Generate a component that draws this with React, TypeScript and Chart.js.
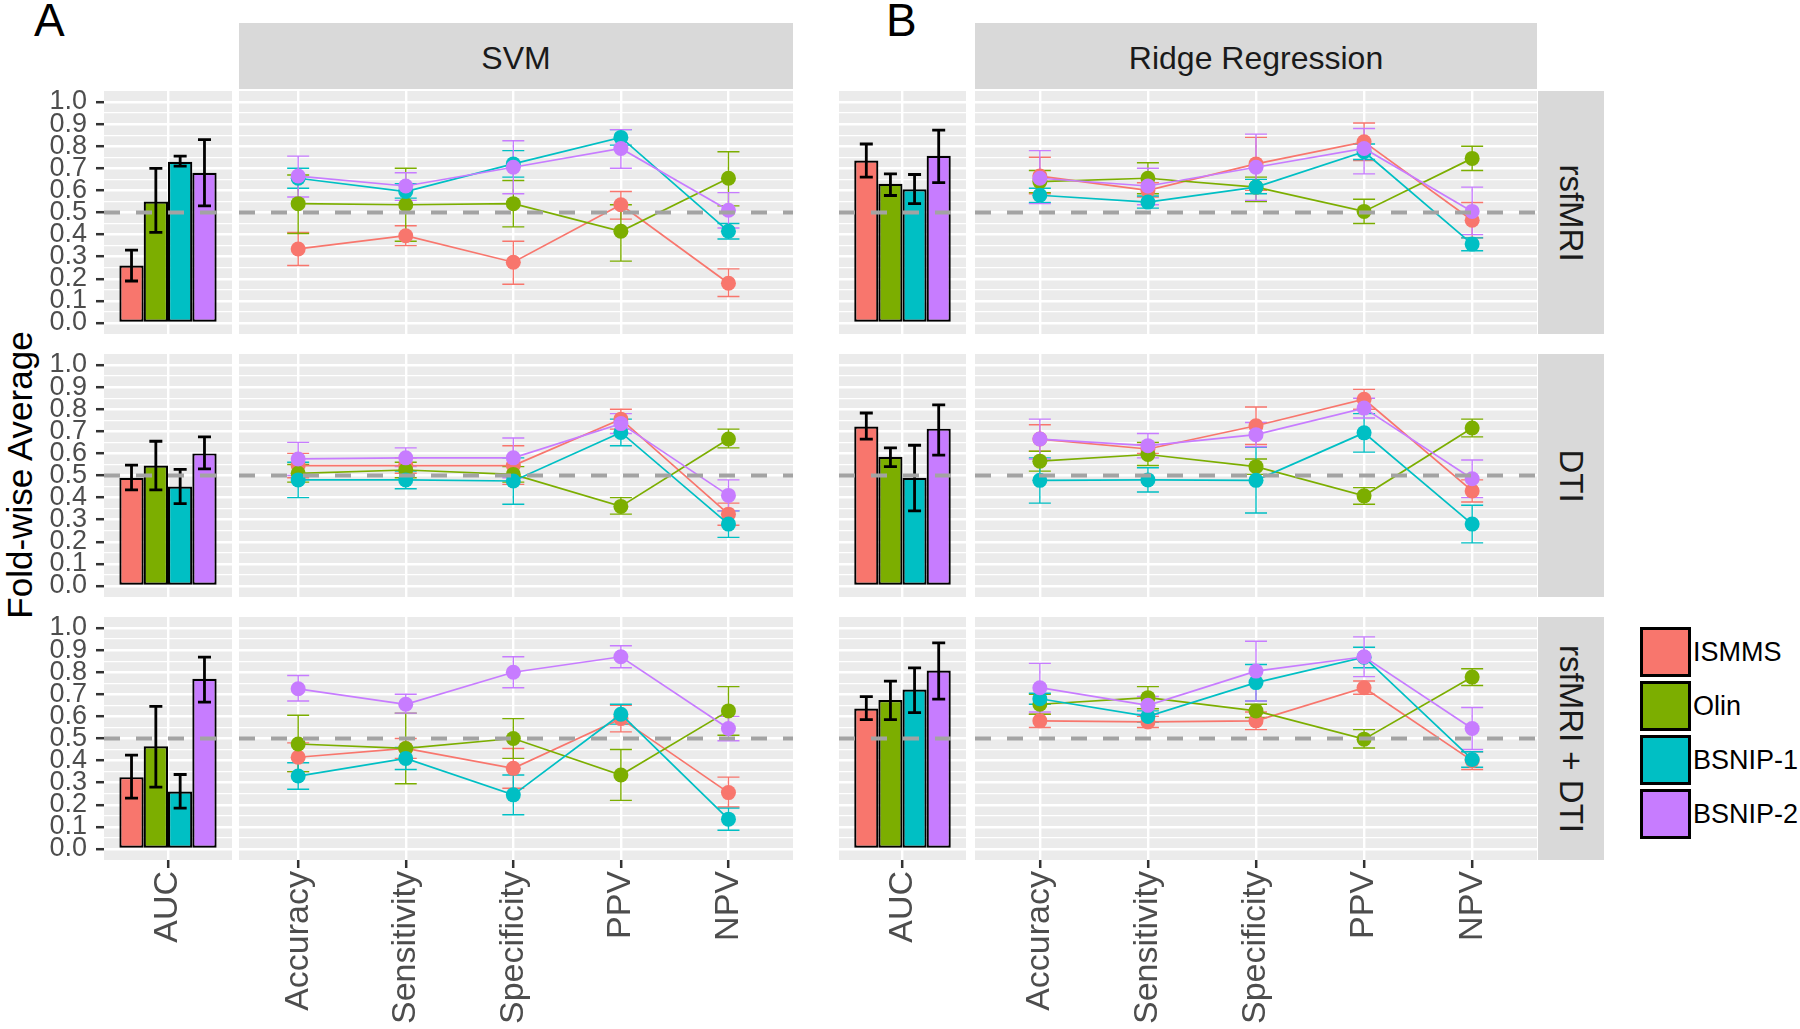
import React, { useEffect, useRef } from "react";
import { Chart, registerables } from "chart.js";

Chart.register(...registerables);

// ---------------- data ----------------
const SITES = ["ISMMS", "Olin", "BSNIP-1", "BSNIP-2"];
const SITE_COLORS = ["#F8766D", "#7CAE00", "#00BFC4", "#C77CFF"];
const AUC_LABELS = ["AUC"];
const METRICS = ["Accuracy", "Sensitivity", "Specificity", "PPV", "NPV"];
const METHODS = ["SVM", "Ridge Regression"];
const MODALITIES = ["rsfMRI", "DTI", "rsfMRI + DTI"];
const Y_TICKS = [0, 0.1, 0.2, 0.3, 0.4, 0.5, 0.6, 0.7, 0.8, 0.9, 1.0];
const CHANCE_LEVEL = 0.5;

// rows: ISMMS, Olin, BSNIP-1, BSNIP-2 ; columns: AUC, Accuracy, Sensitivity, Specificity, PPV, NPV
const SVM_RSFMRI_MEAN = [
  [0.26, 0.335, 0.395, 0.275, 0.535, 0.18],
  [0.55, 0.54, 0.535, 0.54, 0.415, 0.655],
  [0.73, 0.655, 0.595, 0.72, 0.84, 0.415],
  [0.68, 0.665, 0.62, 0.705, 0.79, 0.51],
];
const SVM_RSFMRI_LOW = [
  [0.19, 0.26, 0.35, 0.175, 0.47, 0.12],
  [0.41, 0.405, 0.37, 0.435, 0.28, 0.53],
  [0.71, 0.61, 0.565, 0.66, 0.805, 0.38],
  [0.53, 0.57, 0.555, 0.585, 0.7, 0.43],
];
const SVM_RSFMRI_HIGH = [
  [0.33, 0.41, 0.44, 0.37, 0.595, 0.245],
  [0.7, 0.67, 0.7, 0.645, 0.535, 0.775],
  [0.755, 0.7, 0.63, 0.78, 0.875, 0.45],
  [0.83, 0.755, 0.68, 0.825, 0.875, 0.59],
];

const SVM_DTI_MEAN = [
  [0.49, 0.545, 0.545, 0.545, 0.755, 0.325],
  [0.545, 0.51, 0.525, 0.505, 0.36, 0.665],
  [0.45, 0.48, 0.48, 0.475, 0.695, 0.28],
  [0.6, 0.575, 0.58, 0.58, 0.735, 0.41],
];
const SVM_DTI_LOW = [
  [0.435, 0.49, 0.51, 0.46, 0.71, 0.275],
  [0.435, 0.47, 0.49, 0.47, 0.325, 0.625],
  [0.373, 0.4, 0.44, 0.37, 0.635, 0.22],
  [0.53, 0.5, 0.54, 0.49, 0.69, 0.34],
];
const SVM_DTI_HIGH = [
  [0.547, 0.6, 0.58, 0.635, 0.8, 0.375],
  [0.655, 0.55, 0.56, 0.54, 0.4, 0.71],
  [0.528, 0.56, 0.52, 0.58, 0.755, 0.34],
  [0.675, 0.65, 0.625, 0.67, 0.78, 0.48],
];

const SVM_COMBINED_MEAN = [
  [0.325, 0.415, 0.455, 0.365, 0.59, 0.255],
  [0.465, 0.475, 0.455, 0.5, 0.335, 0.625],
  [0.26, 0.33, 0.41, 0.245, 0.61, 0.135],
  [0.77, 0.725, 0.655, 0.8, 0.87, 0.545],
];
const SVM_COMBINED_LOW = [
  [0.23, 0.35, 0.41, 0.275, 0.53, 0.19],
  [0.28, 0.35, 0.295, 0.41, 0.22, 0.515],
  [0.185, 0.27, 0.36, 0.155, 0.565, 0.085],
  [0.665, 0.67, 0.615, 0.73, 0.82, 0.49],
];
const SVM_COMBINED_HIGH = [
  [0.425, 0.48, 0.5, 0.455, 0.65, 0.325],
  [0.645, 0.605, 0.615, 0.59, 0.45, 0.735],
  [0.337, 0.39, 0.46, 0.335, 0.655, 0.185],
  [0.868, 0.785, 0.7, 0.87, 0.92, 0.6],
];

const RIDGE_RSFMRI_MEAN = [
  [0.735, 0.665, 0.6, 0.72, 0.82, 0.465],
  [0.63, 0.64, 0.655, 0.615, 0.505, 0.745],
  [0.605, 0.578, 0.547, 0.615, 0.775, 0.357],
  [0.757, 0.655, 0.62, 0.705, 0.79, 0.505],
];
const RIDGE_RSFMRI_LOW = [
  [0.66, 0.585, 0.57, 0.6, 0.735, 0.385],
  [0.577, 0.59, 0.585, 0.55, 0.45, 0.69],
  [0.54, 0.545, 0.52, 0.585, 0.74, 0.327],
  [0.635, 0.54, 0.535, 0.555, 0.675, 0.4],
];
const RIDGE_RSFMRI_HIGH = [
  [0.81, 0.75, 0.635, 0.84, 0.905, 0.545],
  [0.675, 0.69, 0.725, 0.66, 0.56, 0.8],
  [0.672, 0.61, 0.575, 0.65, 0.81, 0.385],
  [0.873, 0.78, 0.7, 0.855, 0.88, 0.615],
];

const RIDGE_DTI_MEAN = [
  [0.722, 0.665, 0.62, 0.725, 0.845, 0.43],
  [0.585, 0.565, 0.595, 0.54, 0.408, 0.715],
  [0.49, 0.478, 0.48, 0.478, 0.693, 0.28],
  [0.712, 0.665, 0.635, 0.685, 0.805, 0.485],
];
const RIDGE_DTI_LOW = [
  [0.665, 0.61, 0.6, 0.64, 0.8, 0.38],
  [0.54, 0.52, 0.545, 0.505, 0.37, 0.675],
  [0.34, 0.375, 0.425, 0.33, 0.606, 0.195],
  [0.592, 0.575, 0.58, 0.63, 0.76, 0.4],
];
const RIDGE_DTI_HIGH = [
  [0.783, 0.73, 0.64, 0.81, 0.89, 0.48],
  [0.625, 0.61, 0.65, 0.575, 0.445, 0.755],
  [0.637, 0.58, 0.535, 0.628, 0.78, 0.365],
  [0.82, 0.755, 0.69, 0.74, 0.85, 0.57],
];

const RIDGE_COMBINED_MEAN = [
  [0.636, 0.58, 0.575, 0.58, 0.73, 0.4],
  [0.674, 0.655, 0.685, 0.625, 0.497, 0.778],
  [0.722, 0.68, 0.6, 0.753, 0.868, 0.405],
  [0.808, 0.73, 0.65, 0.805, 0.87, 0.545],
];
const RIDGE_COMBINED_LOW = [
  [0.585, 0.55, 0.55, 0.54, 0.7, 0.36],
  [0.585, 0.61, 0.635, 0.595, 0.457, 0.74],
  [0.617, 0.655, 0.575, 0.67, 0.82, 0.37],
  [0.678, 0.62, 0.61, 0.67, 0.78, 0.45],
];
const RIDGE_COMBINED_HIGH = [
  [0.69, 0.61, 0.6, 0.62, 0.76, 0.44],
  [0.76, 0.7, 0.735, 0.655, 0.54, 0.816],
  [0.82, 0.705, 0.625, 0.835, 0.913, 0.44],
  [0.933, 0.84, 0.69, 0.94, 0.96, 0.64],
];

const PANEL_DATA = [
  // [method][modality]
  [
    { mean: SVM_RSFMRI_MEAN, low: SVM_RSFMRI_LOW, high: SVM_RSFMRI_HIGH },
    { mean: SVM_DTI_MEAN, low: SVM_DTI_LOW, high: SVM_DTI_HIGH },
    { mean: SVM_COMBINED_MEAN, low: SVM_COMBINED_LOW, high: SVM_COMBINED_HIGH },
  ],
  [
    { mean: RIDGE_RSFMRI_MEAN, low: RIDGE_RSFMRI_LOW, high: RIDGE_RSFMRI_HIGH },
    { mean: RIDGE_DTI_MEAN, low: RIDGE_DTI_LOW, high: RIDGE_DTI_HIGH },
    { mean: RIDGE_COMBINED_MEAN, low: RIDGE_COMBINED_LOW, high: RIDGE_COMBINED_HIGH },
  ],
];

// ---------------- layout ----------------
const FONT = '"Liberation Sans", Arial, Helvetica, sans-serif';
const ROW_TOP = [91, 354, 617];
const ROW_H = 243;
const Y_MIN = -0.05;
const Y_MAX = 1.05;
const AUC_COL = [
  { left: 104, width: 128 },
  { left: 839, width: 127 },
];
const MET_COL = [
  { left: 239, width: 554, xMin: -0.55, xMax: 4.6 },
  { left: 975, width: 562, xMin: -0.6, xMax: 4.6 },
];
const Y_AXIS_W = 104;
const X_AXIS_H = 164;
const PAD = 34;
const SIDE = 8;

const GRID_VALUES: number[] = (() => {
  const out: number[] = [];
  for (let i = 0; i < Y_TICKS.length; i++) {
    out.push(Y_TICKS[i]);
    if (i < Y_TICKS.length - 1) out.push((Y_TICKS[i] + Y_TICKS[i + 1]) / 2);
  }
  return out;
})();

const isMajor = (v: number) => Y_TICKS.some((t) => Math.abs(t - v) < 1e-6);

// ---------------- plugins ----------------
const panelBackground = {
  id: "panelBackground",
  beforeDraw(chart: any) {
    const { ctx, chartArea: a } = chart;
    ctx.save();
    ctx.fillStyle = "#EBEBEB";
    ctx.fillRect(a.left, a.top, a.right - a.left, a.bottom - a.top);
    ctx.restore();
  },
};

function drawErrorBars(chart: any, opts: any) {
  const { ctx } = chart;
  const ys = chart.scales.y;
  chart.data.datasets.forEach((ds: any, i: number) => {
    const meta = chart.getDatasetMeta(i);
    meta.data.forEach((el: any, j: number) => {
      const lo = ds.errLow[j];
      const hi = ds.errHigh[j];
      const x = el.x;
      const y1 = ys.getPixelForValue(lo);
      const y2 = ys.getPixelForValue(hi);
      ctx.save();
      ctx.strokeStyle = opts.color || ds.borderColor;
      ctx.lineWidth = opts.lineWidth;
      ctx.lineCap = "butt";
      ctx.beginPath();
      ctx.moveTo(x, y1);
      ctx.lineTo(x, y2);
      ctx.moveTo(x - opts.cap, y1);
      ctx.lineTo(x + opts.cap, y1);
      ctx.moveTo(x - opts.cap, y2);
      ctx.lineTo(x + opts.cap, y2);
      ctx.stroke();
      ctx.restore();
    });
  });
}

const errorBars = {
  id: "errorBars",
  beforeDatasetsDraw(chart: any, _a: any, opts: any) {
    if (opts.layer === "under") drawErrorBars(chart, opts);
  },
  afterDatasetsDraw(chart: any, _a: any, opts: any) {
    if (opts.layer === "over") drawErrorBars(chart, opts);
  },
};

const chanceLine = {
  id: "chanceLine",
  afterDatasetsDraw(chart: any, _a: any, opts: any) {
    const { ctx, chartArea: a } = chart;
    const y = chart.scales.y.getPixelForValue(opts.value);
    ctx.save();
    ctx.beginPath();
    ctx.rect(a.left, a.top, a.right - a.left, a.bottom - a.top);
    ctx.clip();
    ctx.strokeStyle = "#A3A3A3";
    ctx.lineWidth = 4;
    ctx.setLineDash([16, 16]);
    ctx.beginPath();
    ctx.moveTo(a.left, y);
    ctx.lineTo(a.right, y);
    ctx.stroke();
    ctx.restore();
  },
};

// ---------------- scales ----------------
function yScale(showY: boolean) {
  return {
    type: "linear",
    min: Y_MIN,
    max: Y_MAX,
    bounds: "data",
    afterBuildTicks: (s: any) => {
      s.ticks = GRID_VALUES.map((v) => ({ value: v }));
      s.min = Y_MIN;
      s.max = Y_MAX;
    },
    afterFit: (s: any) => {
      s.width = showY ? Y_AXIS_W : 0;
    },
    border: { display: false },
    grid: {
      color: "#FFFFFF",
      lineWidth: (c: any) => (c.tick && isMajor(c.tick.value) ? 2.4 : 1.3),
      drawTicks: showY,
      tickLength: 8,
      tickWidth: 2.5,
      tickColor: (c: any) => (c.tick && isMajor(c.tick.value) ? "#333333" : "rgba(0,0,0,0)"),
    },
    ticks: {
      display: showY,
      autoSkip: false,
      padding: 9,
      color: "#4D4D4D",
      font: { family: FONT, size: 27 },
      callback: (v: any) => (isMajor(Number(v)) ? Number(v).toFixed(1) : ""),
    },
  };
}

function xTickStyle(showX: boolean) {
  return {
    display: showX,
    autoSkip: false,
    maxRotation: 90,
    minRotation: 90,
    padding: 3,
    color: "#4D4D4D",
    font: { family: FONT, size: 34 },
  };
}

function xGrid(showX: boolean) {
  return {
    offset: false,
    color: "#FFFFFF",
    lineWidth: 2.4,
    drawTicks: showX,
    tickLength: 8,
    tickWidth: 2.5,
    tickColor: "#333333",
  };
}

function boxFor(left: number, width: number, top: number, showY: boolean, showX: boolean) {
  const padLeft = showY ? 0 : SIDE;
  const x = showY ? left - Y_AXIS_W : left - SIDE;
  const w = (showY ? Y_AXIS_W : SIDE) + width + SIDE;
  const padBottom = showX ? 2 : PAD;
  const h = PAD + ROW_H + padBottom + (showX ? X_AXIS_H : 0);
  return { x, y: top - PAD, w, h, padding: { left: padLeft, right: SIDE, top: PAD, bottom: padBottom } };
}

function aucConfig(method: number, row: number) {
  const d = PANEL_DATA[method][row];
  const showY = method === 0;
  const showX = row === MODALITIES.length - 1;
  const box = boxFor(AUC_COL[method].left, AUC_COL[method].width, ROW_TOP[row], showY, showX);
  const config = {
    type: "bar",
    data: {
      labels: AUC_LABELS,
      datasets: SITES.map((s, i) => ({
        label: s,
        data: [d.mean[i][0]],
        errLow: [d.low[i][0]],
        errHigh: [d.high[i][0]],
        backgroundColor: SITE_COLORS[i],
        borderColor: "#000000",
        borderWidth: 2.2,
        borderSkipped: false,
        categoryPercentage: 0.76,
        barPercentage: 1,
      })),
    },
    options: {
      responsive: false,
      animation: false,
      devicePixelRatio: 1,
      events: [],
      layout: { padding: box.padding },
      plugins: {
        legend: { display: false },
        tooltip: { enabled: false },
        errorBars: { layer: "over", color: "#000000", lineWidth: 2.8, cap: 6.5 },
        chanceLine: { value: CHANCE_LEVEL },
      },
      scales: {
        x: {
          type: "category",
          offset: true,
          afterFit: (s: any) => {
            s.height = showX ? X_AXIS_H : 0;
          },
          border: { display: false },
          grid: xGrid(showX),
          ticks: xTickStyle(showX),
        },
        y: yScale(showY),
      },
    },
    plugins: [panelBackground, errorBars, chanceLine],
  };
  return { box, config };
}

function metricConfig(method: number, row: number) {
  const d = PANEL_DATA[method][row];
  const showX = row === MODALITIES.length - 1;
  const col = MET_COL[method];
  const box = boxFor(col.left, col.width, ROW_TOP[row], false, showX);
  const config = {
    type: "line",
    data: {
      datasets: SITES.map((s, i) => ({
        label: s,
        data: METRICS.map((_, j) => ({ x: j, y: d.mean[i][j + 1] })),
        errLow: METRICS.map((_, j) => d.low[i][j + 1]),
        errHigh: METRICS.map((_, j) => d.high[i][j + 1]),
        borderColor: SITE_COLORS[i],
        backgroundColor: SITE_COLORS[i],
        borderWidth: 1.7,
        pointRadius: 7.5,
        pointBackgroundColor: SITE_COLORS[i],
        pointBorderWidth: 0,
        tension: 0,
        order: SITES.length - i,
      })),
    },
    options: {
      responsive: false,
      animation: false,
      devicePixelRatio: 1,
      events: [],
      layout: { padding: box.padding },
      plugins: {
        legend: { display: false },
        tooltip: { enabled: false },
        errorBars: { layer: "under", lineWidth: 1.4, cap: 11 },
        chanceLine: { value: CHANCE_LEVEL },
      },
      scales: {
        x: {
          type: "linear",
          min: col.xMin,
          max: col.xMax,
          bounds: "data",
          afterBuildTicks: (s: any) => {
            s.ticks = METRICS.map((_, j) => ({ value: j }));
            s.min = col.xMin;
            s.max = col.xMax;
          },
          afterFit: (s: any) => {
            s.height = showX ? X_AXIS_H : 0;
          },
          border: { display: false },
          grid: xGrid(showX),
          ticks: {
            ...xTickStyle(showX),
            callback: (v: any) => METRICS[Math.round(Number(v))] ?? "",
          },
        },
        y: yScale(false),
      },
    },
    plugins: [panelBackground, errorBars, chanceLine],
  };
  return { box, config };
}

// ---------------- components ----------------
function ChartPanel({ make }: { make: () => { box: any; config: any } }) {
  const ref = useRef<HTMLCanvasElement | null>(null);
  const { box } = make();
  useEffect(() => {
    const { config } = make();
    const chart = new Chart(ref.current as HTMLCanvasElement, config as any);
    return () => chart.destroy();
  }, []);
  return (
    <canvas
      ref={ref}
      width={box.w}
      height={box.h}
      style={{ position: "absolute", left: box.x, top: box.y, width: box.w, height: box.h }}
    />
  );
}

const stripStyle: React.CSSProperties = {
  position: "absolute",
  background: "#D9D9D9",
  color: "#1A1A1A",
  fontFamily: FONT,
  fontSize: 32,
  display: "flex",
  alignItems: "center",
  justifyContent: "center",
  whiteSpace: "nowrap",
};

export default function App() {
  const panels: any[] = [];
  for (let m = 0; m < METHODS.length; m++) {
    for (let r = 0; r < MODALITIES.length; r++) {
      panels.push({ key: `auc-${m}-${r}`, make: () => aucConfig(m, r) });
      panels.push({ key: `met-${m}-${r}`, make: () => metricConfig(m, r) });
    }
  }
  return (
    <div
      style={{
        position: "absolute",
        left: 0,
        top: 0,
        width: 1800,
        height: 1029,
        background: "#FFFFFF",
        overflow: "hidden",
      }}
    >
      {/* panel letters */}
      <div style={{ position: "absolute", left: 34, top: -3, fontFamily: FONT, fontSize: 46, lineHeight: 1, color: "#000" }}>A</div>
      <div style={{ position: "absolute", left: 886, top: -3, fontFamily: FONT, fontSize: 46, lineHeight: 1, color: "#000" }}>B</div>

      {/* top strips */}
      {METHODS.map((name, m) => (
        <div key={name} style={{ ...stripStyle, left: MET_COL[m].left, top: 23, width: MET_COL[m].width, height: 66 }}>
          <span style={{ position: "relative", top: 2 }}>{name}</span>
        </div>
      ))}

      {/* right strips */}
      {MODALITIES.map((name, r) => (
        <div key={name} style={{ ...stripStyle, left: 1538, top: ROW_TOP[r], width: 66, height: ROW_H, fontSize: 33 }}>
          <span style={{ display: "inline-block", transform: "rotate(90deg)" }}>{name}</span>
        </div>
      ))}

      {/* y axis title */}
      <div
        style={{
          position: "absolute",
          left: 19,
          top: 475,
          transform: "translate(-50%, -50%) rotate(-90deg)",
          fontFamily: FONT,
          fontSize: 35,
          lineHeight: 1,
          color: "#000",
          whiteSpace: "nowrap",
        }}
      >
        Fold-wise Average
      </div>

      {panels.map((p) => (
        <ChartPanel key={p.key} make={p.make} />
      ))}

      {/* legend */}
      {SITES.map((s, i) => (
        <div key={s} style={{ position: "absolute", left: 1640, top: 627 + i * 54, height: 50, display: "flex", alignItems: "center" }}>
          <div
            style={{
              width: 51,
              height: 50,
              boxSizing: "border-box",
              border: "3px solid #000",
              background: SITE_COLORS[i],
            }}
          />
          <span style={{ marginLeft: 2, fontFamily: FONT, fontSize: 27, color: "#000", whiteSpace: "nowrap" }}>{s}</span>
        </div>
      ))}
    </div>
  );
}
